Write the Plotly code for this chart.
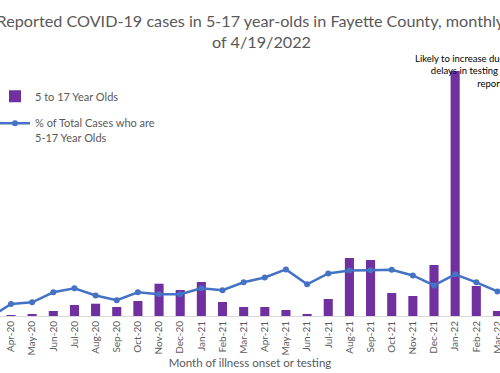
import plotly.graph_objects as go

months = ["Mar-20", "Apr-20", "May-20", "Jun-20", "Jul-20", "Aug-20", "Sep-20", "Oct-20",
          "Nov-20", "Dec-20", "Jan-21", "Feb-21", "Mar-21", "Apr-21", "May-21", "Jun-21",
          "Jul-21", "Aug-21", "Sep-21", "Oct-21", "Nov-21", "Dec-21", "Jan-22", "Feb-22", "Mar-22"]
cases_5_17 = [5, 10, 20, 50, 110, 123, 90, 150, 323, 260, 340, 140, 90, 90, 60, 20,
              170, 580, 560, 230, 200, 510, 2450, 300, 50]
pct_of_total = [0.2, 4.9, 5.5, 9.0, 10.4, 7.9, 6.2, 9.0, 8.3, 8.3, 10.4, 9.7, 12.5, 14.2, 17.0, 11.8,
                15.6, 16.6, 16.7, 16.9, 14.9, 11.4, 15.3, 12.5, 9.3]

FONT = "Lato, 'Open Sans', sans-serif"
GREY = "#595959"

fig = go.Figure()
fig.add_trace(go.Bar(
    x=months, y=cases_5_17, name="5 to 17 Year Olds",
    marker=dict(color="#7030A0", line=dict(width=0)),
    legendgroup="a",
))
fig.add_trace(go.Scatter(
    x=months, y=pct_of_total, name="% of Total Cases who are<br>5-17 Year Olds",
    yaxis="y2", mode="lines+markers",
    line=dict(color="#4472C4", width=2.5),
    marker=dict(color="#4472C4", size=6),
    legendgroup="b",
))

fig.update_layout(
    width=500, height=373,
    margin=dict(l=0, r=0, t=60, b=57, autoexpand=False),
    paper_bgcolor="white", plot_bgcolor="white",
    font=dict(family=FONT, color=GREY),
    bargap=0.57,
    title=dict(
        text="Reported COVID-19 cases in 5-17 year-olds in Fayette County, monthly, as<br>of 4/19/2022",
        x=0.523, xanchor="center", xref="paper",
        y=1 - 27 / 373, yanchor="top", yref="container",
        font=dict(size=16.2, color=GREY, family=FONT),
    ),
    xaxis=dict(
        type="category", range=[0.48, 24.12],
        showline=True, linecolor="#D9D9D9", linewidth=1,
        ticks="", tickangle=-90, tickfont=dict(size=10, color=GREY),
        showgrid=False, zeroline=False,
        title=dict(text="Month of illness onset or testing", font=dict(size=11.5, color=GREY), standoff=4),
    ),
    yaxis=dict(range=[0, 2560], visible=False, showgrid=False, zeroline=False),
    yaxis2=dict(range=[0.7, 90.3], overlaying="y", side="right", visible=False,
                showgrid=False, zeroline=False),
    legend=dict(
        x=-0.01, xanchor="left", y=0.912, yanchor="top",
        font=dict(size=11, color=GREY, family=FONT),
        bgcolor="rgba(0,0,0,0)", traceorder="grouped", tracegroupgap=8,
        valign="top",
    ),
    annotations=[dict(
        text="Likely to increase due to<br>delays in testing and<br>reporting",
        xref="paper", yref="paper", x=1.036, y=1.035, xanchor="right", yanchor="top",
        align="right", showarrow=False,
        font=dict(size=9.5, color="black", family=FONT),
    )],
)

fig.write_html("out.html", config={"displayModeBar": False},
               post_script="document.body.style.margin='0';document.body.style.overflow='hidden';")
